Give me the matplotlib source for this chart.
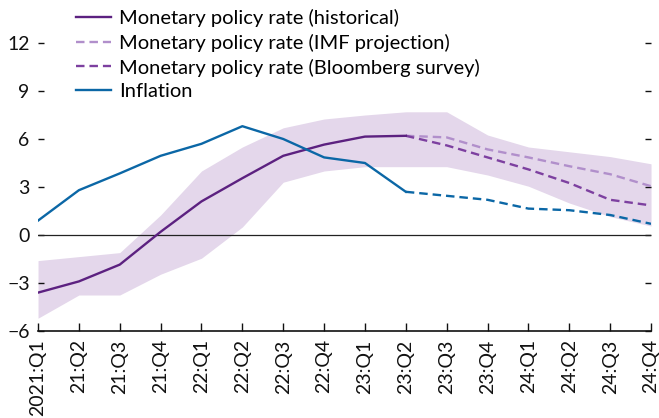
import matplotlib.pyplot as plt

plt.rcParams['font.family'] = ['Lato', 'DejaVu Sans']

quarters = ['2021:Q1', '21:Q2', '21:Q3', '21:Q4', '22:Q1', '22:Q2', '22:Q3', '22:Q4',
            '23:Q1', '23:Q2', '23:Q3', '23:Q4', '24:Q1', '24:Q2', '24:Q3', '24:Q4']

# history runs to 23:Q2, projections start from there
rate_hist = [-3.6, -2.9, -1.85, 0.2, 2.1, 3.55, 4.95, 5.65, 6.15, 6.2]
rate_imf = [6.2, 6.1, 5.35, 4.85, 4.3, 3.8, 3.05]
rate_bbg = [6.2, 5.6, 4.85, 4.1, 3.25, 2.2, 1.85]
infl_hist = [0.9, 2.8, 3.85, 4.95, 5.7, 6.8, 6.0, 4.85, 4.5, 2.7]
infl_proj = [2.7, 2.45, 2.2, 1.65, 1.55, 1.25, 0.7]
band_hi = [-1.6, -1.35, -1.1, 1.25, 4.0, 5.5, 6.7, 7.25, 7.5, 7.7, 7.7, 6.25, 5.5, 5.2, 4.9, 4.45]
band_lo = [-5.2, -3.75, -3.75, -2.45, -1.45, 0.5, 3.3, 4.0, 4.27, 4.27, 4.27, 3.75, 3.05, 2.0, 1.15, 0.56]

c_hist = '#5c2180'
c_imf = '#b18fcb'
c_bbg = '#7d40a0'
c_infl = '#0b67a6'
c_band = '#e4d7eb'

x = list(range(len(quarters)))
xh = x[:len(rate_hist)]
xp = x[len(rate_hist) - 1:]

fig = plt.figure(figsize=(6.59, 4.18), dpi=100)
ax = fig.add_axes([0.0577, 0.2081, 0.9302, 0.7656])

ax.fill_between(x, band_lo, band_hi, color=c_band, lw=0, zorder=1)
ax.axhline(0, color='#222222', lw=0.9, zorder=2)

dash = (3.6, 2.1)
ax.plot(xh, rate_hist, color=c_hist, lw=1.7, label='Monetary policy rate (historical)', zorder=4)
ax.plot(xp, rate_imf, color=c_imf, lw=1.7, dashes=dash, label='Monetary policy rate (IMF projection)', zorder=3)
ax.plot(xp, rate_bbg, color=c_bbg, lw=1.7, dashes=dash, label='Monetary policy rate (Bloomberg survey)', zorder=3)
ax.plot(xh, infl_hist, color=c_infl, lw=1.7, label='Inflation', zorder=4)
ax.plot(xp, infl_proj, color=c_infl, lw=1.7, dashes=dash, zorder=4)

ax.set_xlim(0, len(quarters) - 1)
ax.set_ylim(-6, 14)
ax.set_yticks([-6, -3, 0, 3, 6, 9, 12])
ax.set_yticklabels(['\u22126', '\u22123', '0', '3', '6', '9', '12'])
ax.set_xticks(x)
ax.set_xticklabels(quarters, rotation=90)

for s in ['left', 'right', 'top']:
    ax.spines[s].set_visible(False)
ax.spines['bottom'].set_linewidth(1.2)
ax.spines['bottom'].set_color('#111111')

ax.tick_params(axis='x', direction='in', length=6, width=1, pad=6, labelsize=14, colors='#111111')
ax.tick_params(axis='y', direction='in', length=4, width=1, pad=6, labelsize=14,
               right=True, labelright=False, colors='#111111')

leg = ax.legend(loc='upper left', bbox_to_anchor=(72 / 659, 1 - 5 / 418), bbox_transform=fig.transFigure,
                frameon=False, fontsize=14.5, handlelength=1.75, handletextpad=0.4,
                labelspacing=0.33, borderpad=0.2, borderaxespad=0)

fig.savefig('out.png', dpi=100)
